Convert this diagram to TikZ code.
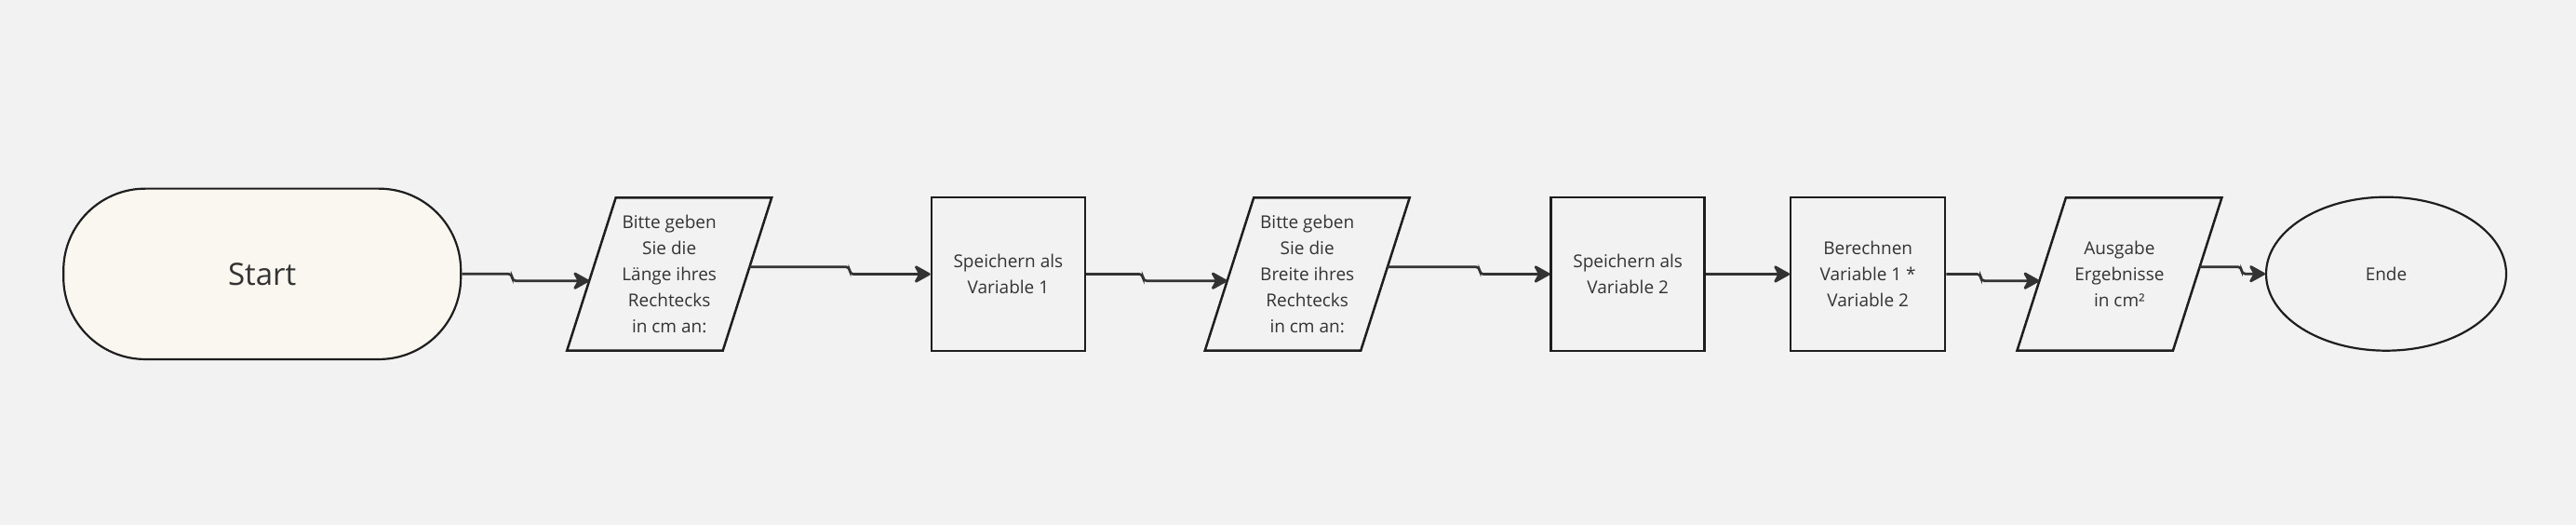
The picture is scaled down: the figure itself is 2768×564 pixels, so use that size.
\documentclass[tikz,border=0pt]{standalone}
\usepackage{fontspec}
\setmainfont{Open Sans}
\usetikzlibrary{shapes.geometric,arrows.meta,calc}
\definecolor{bg}{HTML}{F2F2F2}
\definecolor{cream}{HTML}{FAF7F0}
\definecolor{ink}{HTML}{1E1E1E}
\definecolor{txt}{HTML}{333333}
\definecolor{conn}{HTML}{333333}
\begin{document}
\begin{tikzpicture}[x=1pt,y=-1pt,
  lbl/.style={align=center,text=txt,font=\fontsize{19}{28}\selectfont,inner sep=0pt},
  boxnode/.style={lbl,draw=ink,line width=2.5pt,minimum width=165pt,minimum height=164.5pt},
  termnode/.style={lbl,draw=ink,line width=2.2pt},
  parashape/.style={draw=ink,line width=2.5pt,line join=miter},
  flow/.style={draw=conn,line width=2.7pt,rounded corners=4pt,-{Stealth[round,length=20pt,width=22pt,inset=6pt]}}]
\fill[bg] (0,0) rectangle (2768,564);
\useasboundingbox (0,0) rectangle (2768,564);

% terminals
\node[termnode, fill=cream, rounded corners=88pt, minimum width=427pt, minimum height=183.3pt,
      font=\fontsize{33}{40}\selectfont] (start) at (281.7,294.3) {Start};
\node[termnode, ellipse, minimum width=258pt, minimum height=165pt] (ende) at (2564,294.2) {Ende};

% process boxes
\node[boxnode] (box1) at (1083.4,294.5) {Speichern als\\Variable 1};
\node[boxnode] (box2) at (1749.2,294.5) {Speichern als\\Variable 2};
\node[boxnode, minimum width=166pt] (box3) at (2007.2,294.5) {Berechnen\\Variable 1 *\\Variable 2};

% input/output parallelograms
\node[lbl] (p1) at (719.2,294.5) {Bitte geben\\Sie die\\Länge ihres\\Rechtecks\\in cm an:};
\node[lbl] (p2) at (1404.7,294.5) {Bitte geben\\Sie die\\Breite ihres\\Rechtecks\\in cm an:};
\node[lbl] (p3) at (2277.4,294.5) {Ausgabe\\Ergebnisse\\in cm²};
\foreach \p in {p1,p2,p3}{
  \draw[parashape] ($(\p.center)+(-57.5,-82.2)$) -- ($(\p.center)+(110,-82.2)$)
     -- ($(\p.center)+(57.5,82.2)$) -- ($(\p.center)+(-110,82.2)$) -- cycle;
  \coordinate (\p in) at ($(\p.center)+(-86.1,7.2)$);
  \coordinate (\p out) at ($(\p.center)+(86.2,-7.8)$);
}

% connectors
\draw[flow] (start.east) -- ++(54,0) |- (p1in);
\draw[flow] (p1out) -- ++(107.6,0) |- (box1.west);
\draw[flow] (box1.east) -- ++(61,0) |- (p2in);
\draw[flow] (p2out) -- ++(99,0) |- (box2.west);
\draw[flow] (box2.east) -- (box3.west);
\draw[flow] (box3.east) -- ++(37,0) |- (p3in);
\draw[flow] (p3out) -- ++(45,0) |- (ende.west);
\end{tikzpicture}
\end{document}
